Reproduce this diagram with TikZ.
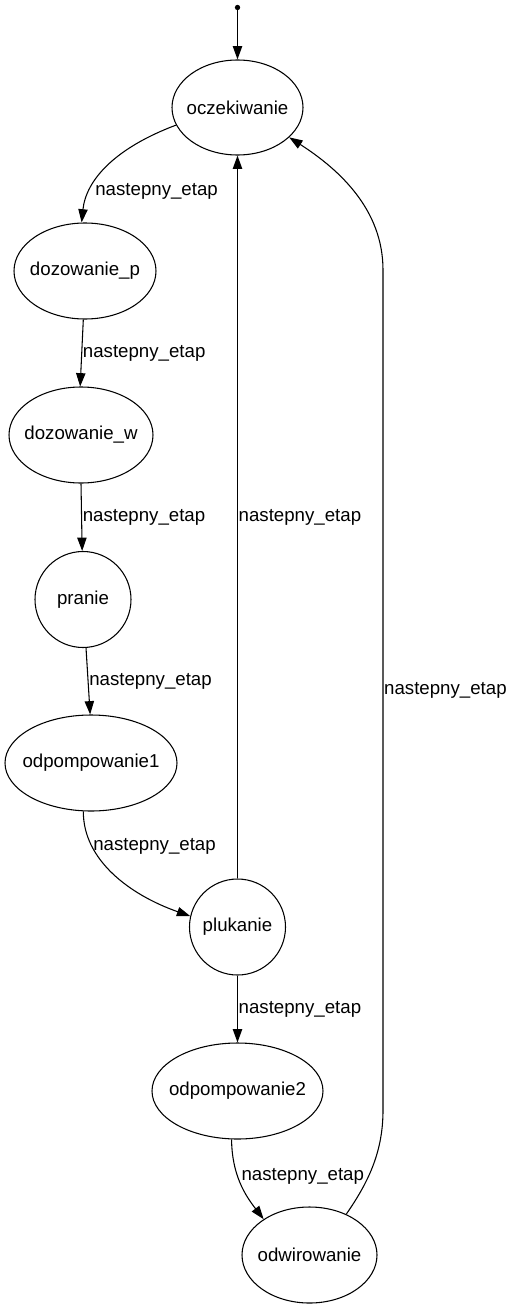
\documentclass[tikz,border=0pt]{standalone}
\usepackage{fontspec}
\setmainfont{Liberation Sans}
\usetikzlibrary{shapes.geometric,arrows.meta}
\newcommand{\zwtext}[1]{\makebox[0pt]{#1}}
\begin{document}
\begin{tikzpicture}[x=0.75pt,y=-0.75pt,
  every node/.style={font=\fontsize{14pt}{16pt}\selectfont},
  st/.style={draw,ellipse,line width=0.8pt,inner sep=0pt},
  cst/.style={draw,circle,line width=0.8pt,inner sep=0pt,minimum size=72pt},
  edge/.style={line width=0.8pt,-{Triangle[length=10pt,width=7pt]}},
  lbl/.style={anchor=west,inner sep=0.5pt}]
\useasboundingbox (0,0) rectangle (514,1309);
\node[circle,fill,inner sep=0pt,minimum size=4pt] (start) at (237.5,7.5) {};
\node[st,minimum width=98.25pt,minimum height=71.25pt] (ocz) at (237.5,107.5) {\zwtext{oczekiwanie}};
\node[st,minimum width=106.5pt,minimum height=72pt] (dozp) at (85,271) {\zwtext{dozowanie\_p}};
\node[st,minimum width=108pt,minimum height=72pt] (dozw) at (81,435) {\zwtext{dozowanie\_w}};
\node[cst] (pranie) at (83,599.5) {\zwtext{pranie}};
\node[st,minimum width=129pt,minimum height=72pt] (odp1) at (91,763) {\zwtext{odpompowanie1}};
\node[cst] (pluk) at (237.5,927) {\zwtext{plukanie}};
\node[st,minimum width=128.25pt,minimum height=72pt] (odp2) at (237.5,1091) {\zwtext{odpompowanie2}};
\node[st,minimum width=101.25pt,minimum height=72pt] (odw) at (309.5,1255) {\zwtext{odwirowanie}};

\draw[edge] (start) -- (ocz);
\draw[edge] (ocz.196) .. controls (115,148) and (86,180) .. (dozp.94)
  node[lbl,pos=0.74,xshift=3pt] {nastepny\_etap};
\draw[edge] (dozp.268) -- node[lbl] {nastepny\_etap} (dozw.91);
\draw[edge] (dozw.270) -- node[lbl] {nastepny\_etap} (pranie);
\draw[edge] (pranie) -- node[lbl] {nastepny\_etap} (odp1.91);
\draw[edge] (odp1.261) .. controls (83,860) and (130,895) .. (pluk.167)
  node[lbl,pos=0.26,xshift=0pt] {nastepny\_etap};
\draw[edge] (pluk) -- node[lbl] {nastepny\_etap} (ocz);
\draw[edge] (pluk) -- node[lbl] {nastepny\_etap} (odp2);
\draw[edge] (odp2.263) .. controls (232,1175) and (245,1195) .. (odw.142)
  node[lbl,pos=0.4,xshift=2pt] {nastepny\_etap};
\draw[edge] (odw.48) .. controls (370,1180) and (383,1150) .. (383,1110)
  -- node[lbl] {nastepny\_etap} (383,270)
  .. controls (383,210) and (340,170) .. (ocz.330);
\end{tikzpicture}
\end{document}
